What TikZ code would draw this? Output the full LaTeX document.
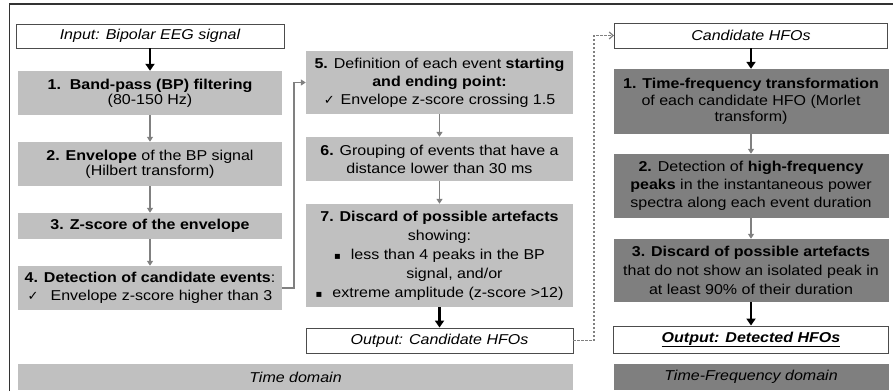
\documentclass[tikz,border=0pt]{standalone}
\usepackage{fontspec}
\setmainfont[FakeStretch=1.12]{Liberation Sans}
\newfontfamily\symfont{DejaVu Sans}
\usetikzlibrary{arrows.meta}
\definecolor{lg}{RGB}{192,192,192}
\definecolor{dg}{RGB}{127,127,127}
\definecolor{ar}{RGB}{128,128,128}
\newcommand{\chk}{{\symfont\fontsize{13}{13}\selectfont ✓}}
\newcommand{\sqb}{{\symfont\fontsize{10}{10}\selectfont ▪}}
\tikzset{
  box/.style={inner sep=0pt, align=center, font=\fontsize{14.3}{18}\selectfont, text=black},
  lbox/.style={box, fill=lg},
  dbox/.style={box, fill=dg},
  wbox/.style={box, fill=white, draw=black!70, line width=0.9pt},
  thk/.style={line width=2.2pt, -{Triangle[width=9pt,length=7pt]}},
  thn/.style={draw=ar, line width=1.2pt, -{Triangle[width=6pt,length=5pt]}},
  dsh/.style={draw=ar, line width=1.2pt, dash pattern=on 2.5pt off 1.5pt, -{Straight Barb[width=7pt,length=4pt]}}
}
\begin{document}
\begin{tikzpicture}[x=1pt,y=-1pt]
\useasboundingbox (0,0) rectangle (893,391);
\draw[line width=1.5pt, draw=black!80] (9.5,391) -- (9.5,4) -- (893,4);

% left column
\node[wbox, minimum width=268pt, minimum height=24pt] (in) at (150,36) {\itshape Input: Bipolar EEG signal};
\node[lbox, minimum width=264pt, minimum height=44pt, font=\fontsize{14.3}{15}\selectfont] (b1) at (150,93)
  {\textbf{1.\ \ Band-pass (BP) filtering}\\(80-150 Hz)};
\node[lbox, minimum width=264pt, minimum height=44pt, font=\fontsize{14.3}{15}\selectfont] (b2) at (150,164)
  {\textbf{2. Envelope} of the BP signal\\(Hilbert transform)};
\node[lbox, minimum width=264pt, minimum height=26pt] (b3) at (150,226)
  {\textbf{3. Z-score of the envelope}};
\node[lbox, minimum width=264pt, minimum height=44pt] (b4) at (150,288)
  {\textbf{4. Detection of candidate events}:\\\chk\hspace{12pt}Envelope z-score higher than 3};

% middle column
\node[lbox, minimum width=267pt, minimum height=63pt] (b5) at (439.5,82.5)
  {\textbf{5.} Definition of each event \textbf{starting}\\\textbf{and ending point:}\\\chk\hspace{6pt}Envelope z-score crossing 1.5};
\node[lbox, minimum width=267pt, minimum height=44pt] (b6) at (439.5,159)
  {\textbf{6.} Grouping of events that have a\\distance lower than 30 ms};
\node[lbox, minimum width=267pt, minimum height=103pt, font=\fontsize{14.3}{19}\selectfont] (b7) at (439.5,255.5)
  {\textbf{7. Discard of possible artefacts}\\showing:\\\sqb\hspace{10pt}less than 4 peaks in the BP\\\hspace*{30pt}signal, and/or\\\sqb\hspace{10pt}extreme amplitude (z-score >12)};
\node[wbox, minimum width=267pt, minimum height=25pt] (out1) at (439.5,340.5) {\itshape Output: Candidate HFOs};
\node[lbox, minimum width=555pt, minimum height=26pt] (tdom) at (295.5,377) {\itshape Time domain};

% right column
\node[wbox, minimum width=273pt, minimum height=25pt] (cand) at (751,35.5) {\itshape Candidate HFOs};
\node[dbox, minimum width=275pt, minimum height=65pt, font=\fontsize{14.3}{16.5}\selectfont] (t1) at (751,101.5)
  {\textbf{1. Time-frequency transformation}\\of each candidate HFO (Morlet\\transform)};
\node[dbox, minimum width=275pt, minimum height=64pt] (t2) at (751,186)
  {\textbf{2.} Detection of \textbf{high-frequency}\\\textbf{peaks} in the instantaneous power\\spectra along each event duration};
\node[dbox, minimum width=275pt, minimum height=63pt, font=\fontsize{14.3}{19}\selectfont] (t3) at (751,270.5)
  {\textbf{3. Discard of possible artefacts}\\that do not show an isolated peak in\\at least 90\% of their duration};
\node[wbox, minimum width=275pt, minimum height=27pt] (out2) at (751,339.5)
  {\bfseries\itshape\underline{Output: Detected HFOs}};
\node[dbox, minimum width=275pt, minimum height=26pt] (tfdom) at (751,377) {\itshape Time-Frequency domain};

% connectors
\draw[thk] (in) -- (b1);
\draw[thn] (b1) -- (b2);
\draw[thn] (b2) -- (b3);
\draw[thn] (b3) -- (b4);
\coordinate (e1) at (294,82.5);
\draw[thn] (b4.east) -| (e1) -- (b5.west);
\draw[thn] (b5) -- (b6);
\draw[thn] (b6) -- (b7);
\draw[thk] (b7) -- (out1);
\coordinate (d1) at (594,35.5);
\draw[dsh] (out1.east) -| (d1) -- (cand.west);
\draw[thk] (cand) -- (t1);
\draw[thn] (t1) -- (t2);
\draw[thn] (t2) -- (t3);
\draw[thk] (t3) -- (out2);
\end{tikzpicture}
\end{document}
